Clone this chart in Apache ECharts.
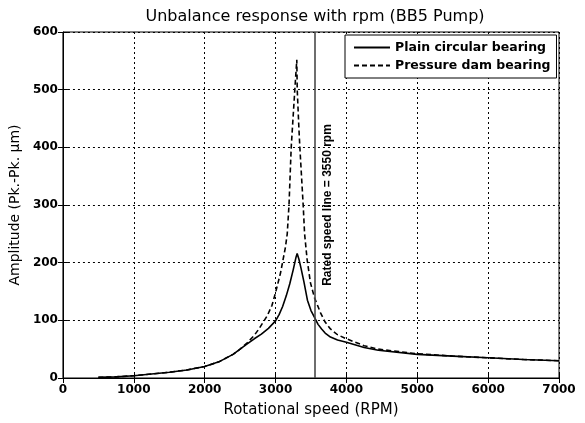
<!DOCTYPE html>
<html>
<head>
<meta charset="utf-8">
<script src="https://cdn.jsdelivr.net/npm/echarts@6/dist/echarts.min.js"></script>
<style>html,body{margin:0;padding:0;background:#fff}#c{width:585px;height:423px}</style>
</head>
<body>
<div id="c"></div>
<script>
// Data
const plainRpm = [500, 750, 1000, 1250, 1500, 1750, 2000, 2200, 2400, 2500, 2600, 2700, 2800, 2900, 3000, 3050, 3100, 3150, 3200, 3250, 3290, 3305, 3330, 3360, 3400, 3450, 3500, 3550, 3600, 3650, 3700, 3775, 3875, 4000, 4250, 4450, 5000, 5500, 6000, 6500, 7000];
const plainAmp = [1, 2, 4, 7, 10, 14, 20, 28, 41, 50, 59, 68, 76, 86, 99, 110, 124, 142, 163, 188, 210, 216, 206, 190, 167, 135, 117, 105, 93, 85, 78, 71, 66, 62, 53, 48, 41, 38, 35, 32, 30];

const damRpm = [500, 750, 1000, 1250, 1500, 1750, 2000, 2200, 2400, 2500, 2600, 2700, 2765, 2883, 2950, 3000, 3070, 3140, 3165, 3190, 3221, 3272, 3300, 3306, 3330, 3343, 3390, 3410, 3446, 3493, 3550, 3635, 3700, 3775, 3875, 4000, 4250, 4450, 5000, 5500, 6000, 6500, 7000];
const damAmp = [1, 2, 4, 7, 10, 14, 20, 28, 41, 50, 61, 74, 85, 108, 126, 148, 182, 227, 250, 300, 400, 500, 552, 500, 432, 400, 300, 250, 205, 165, 139, 113, 97, 85, 75, 68, 56, 50, 42, 38, 35, 32, 30];

const ratedSpeed = 3550;
const xTicks = [0, 1000, 2000, 3000, 4000, 5000, 6000, 7000];
const yTicks = [0, 100, 200, 300, 400, 500, 600];

const pairs = (xs, ys) => xs.map((x, i) => [x, ys[i]]);

const chart = echarts.init(document.getElementById('c'), null, {renderer: 'canvas'});
const fontFam = 'DejaVu Sans, sans-serif';
const tickLbl = {color: '#000', fontWeight: 'bold', fontSize: 12, fontFamily: fontFam, formatter: v => String(v)};

chart.setOption({
  animation: false,
  backgroundColor: '#fff',
  title: {
    text: 'Unbalance response with rpm (BB5 Pump)',
    left: 310, top: 4, textAlign: 'center',
    textStyle: {fontSize: 16, fontWeight: 'normal', color: '#000', fontFamily: fontFam}
  },
  grid: {left: 62, right: 26, top: 32, bottom: 40, show: true, borderColor: '#000', borderWidth: 1, backgroundColor: 'transparent'},
  legend: {
    orient: 'vertical', left: 345, top: 35,
    padding: [6, 6, 6, 8], itemGap: 5,
    itemWidth: 36, itemHeight: 12,
    backgroundColor: '#fff', borderColor: '#000', borderWidth: 1,
    itemStyle: {opacity: 0},
    textStyle: {fontSize: 12.5, fontWeight: 'bold', color: '#000', fontFamily: fontFam},
    data: ['Plain circular bearing', 'Pressure dam bearing']
  },
  xAxis: [{
    type: 'value', min: xTicks[0], max: xTicks[xTicks.length - 1], interval: 1000,
    name: 'Rotational speed (RPM)', nameLocation: 'middle', nameGap: 25,
    nameTextStyle: {fontSize: 15, color: '#000', fontFamily: fontFam},
    axisLine: {lineStyle: {color: '#000', width: 1}},
    axisTick: {inside: true, length: 5, lineStyle: {color: '#000'}},
    axisLabel: Object.assign({margin: 6}, tickLbl),
    splitLine: {show: true, lineStyle: {color: '#000', type: [2, 3], width: 1}}
  }, {
    type: 'value', position: 'top', min: xTicks[0], max: xTicks[xTicks.length - 1], interval: 1000,
    axisLine: {show: false}, axisTick: {inside: true, length: 5, lineStyle: {color: '#000'}},
    axisLabel: {show: false}, splitLine: {show: false}
  }],
  yAxis: [{
    type: 'value', min: yTicks[0], max: yTicks[yTicks.length - 1], interval: 100,
    name: 'Amplitude (Pk.-Pk. μm)', nameLocation: 'middle', nameGap: 40,
    nameTextStyle: {fontSize: 14, color: '#000', fontFamily: fontFam},
    axisLine: {show: true, lineStyle: {color: '#000', width: 1}},
    axisTick: {show: true, inside: true, length: 5, lineStyle: {color: '#000'}},
    axisLabel: Object.assign({margin: 5}, tickLbl),
    splitLine: {show: true, lineStyle: {color: '#000', type: [2, 3], width: 1}}
  }, {
    type: 'value', position: 'right', min: yTicks[0], max: yTicks[yTicks.length - 1], interval: 100,
    axisLine: {show: false}, axisTick: {show: true, inside: true, length: 5, lineStyle: {color: '#000'}},
    axisLabel: {show: false}, splitLine: {show: false}
  }],
  series: [{
    name: 'Plain circular bearing', type: 'line', symbol: 'none', smooth: false,
    data: pairs(plainRpm, plainAmp),
    lineStyle: {color: '#000', width: 1.6, type: 'solid'},
    itemStyle: {color: '#000'},
    markLine: {
      silent: true, symbol: 'none', animation: false,
      lineStyle: {color: '#4a4a4a', width: 1.6, type: 'solid'},
      label: {
        show: true, position: 'insideMiddleBottom', formatter: 'Rated speed line = 3550 rpm',
        color: '#000', fontWeight: 'bold', fontSize: 12, fontFamily: 'Liberation Sans, Arial, sans-serif', distance: 7
      },
      data: [{xAxis: ratedSpeed}]
    }
  }, {
    name: 'Pressure dam bearing', type: 'line', symbol: 'none', smooth: false,
    data: pairs(damRpm, damAmp),
    lineStyle: {color: '#000', width: 1.6, type: [5, 3]},
    itemStyle: {color: '#000'}
  }]
});
</script>
</body>
</html>
